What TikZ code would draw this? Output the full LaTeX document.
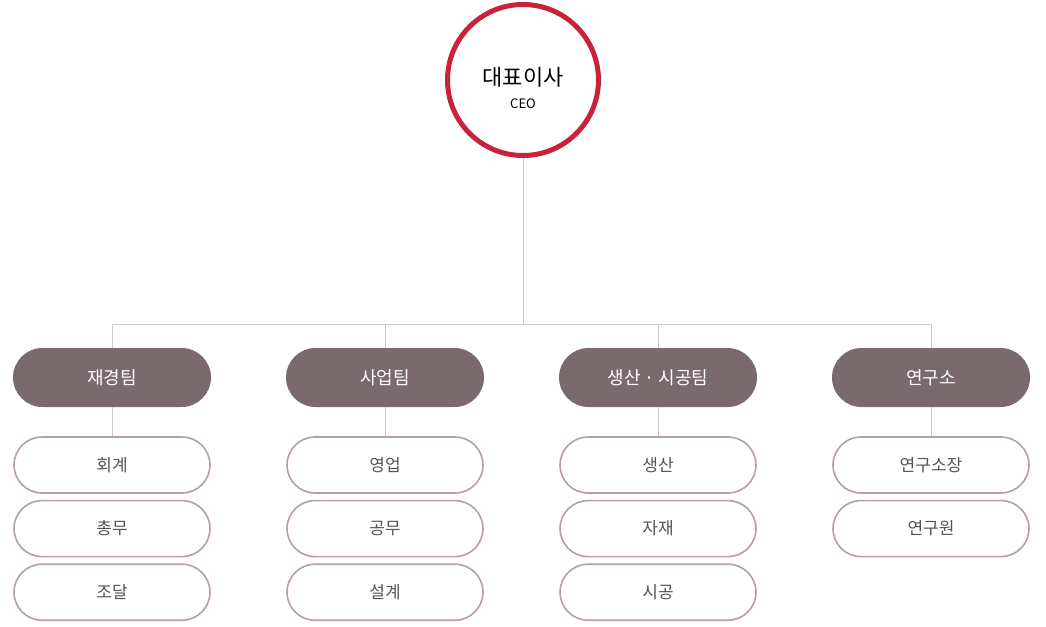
\documentclass[tikz,border=0pt]{standalone}
\usepackage{fontspec}
\setmainfont{Noto Sans CJK KR}
\usetikzlibrary{positioning}
\definecolor{ceored}{HTML}{C8233A}
\definecolor{teambrown}{HTML}{7A6A6D}
\definecolor{subline}{HTML}{B89EA3}
\definecolor{linegray}{HTML}{CCCCCC}
\definecolor{subtext}{HTML}{555555}

\begin{document}
\begin{tikzpicture}[x=1pt,y=-1pt,node distance=6pt,
  ceo node/.style={circle,draw=ceored,line width=5pt,minimum size=151pt,inner sep=0pt},
  ceo text/.style={align=center,inner sep=0pt,font=\fontsize{13}{23}\selectfont},
  team node/.style={rectangle,rounded corners=29.5pt,fill=teambrown,text=white,minimum width=198pt,minimum height=59pt,inner sep=0pt,font=\fontsize{18}{20}\selectfont},
  sub node/.style={rectangle,rounded corners=28pt,draw=subline,line width=1.6pt,fill=white,text=subtext,minimum width=196pt,minimum height=56pt,inner sep=0pt,font=\fontsize{17}{20}\selectfont},
  link/.style={draw=linegray,line width=1pt}]

  \useasboundingbox (0,0) rectangle (1046,626);

  % top
  \node[ceo node] (ceo) at (523,80) {};
  \node[ceo text] (ceotitle) at ([yshift=-8pt]ceo.center) {{\fontsize{22}{24}\selectfont 대표이사}\\CEO};
  \coordinate (bus) at (523,324);

  % teams
  \node[team node] (fin) at (112,377.5) {재경팀};
  \node[team node] (biz) at (385,377.5) {사업팀};
  \node[team node] (prod) at (658,377.5) {생산 · 시공팀};
  \node[team node] (lab) at (931,377.5) {연구소};

  \path[link] (ceo) -- (bus);
  \path[link] (bus) -| (fin.north);
  \path[link] (bus) -| (biz.north);
  \path[link] (bus) -| (prod.north);
  \path[link] (bus) -| (lab.north);

  % sub units
  \node[sub node] (fin1) [below=29pt of fin] {회계};
  \node[sub node] (fin2) [below=of fin1] {총무};
  \node[sub node] (fin3) [below=of fin2] {조달};

  \node[sub node] (biz1) [below=29pt of biz] {영업};
  \node[sub node] (biz2) [below=of biz1] {공무};
  \node[sub node] (biz3) [below=of biz2] {설계};

  \node[sub node] (prod1) [below=29pt of prod] {생산};
  \node[sub node] (prod2) [below=of prod1] {자재};
  \node[sub node] (prod3) [below=of prod2] {시공};

  \node[sub node] (lab1) [below=29pt of lab] {연구소장};
  \node[sub node] (lab2) [below=of lab1] {연구원};

  \path[link] (fin) -- (fin1);
  \path[link] (biz) -- (biz1);
  \path[link] (prod) -- (prod1);
  \path[link] (lab) -- (lab1);
\end{tikzpicture}
\end{document}
